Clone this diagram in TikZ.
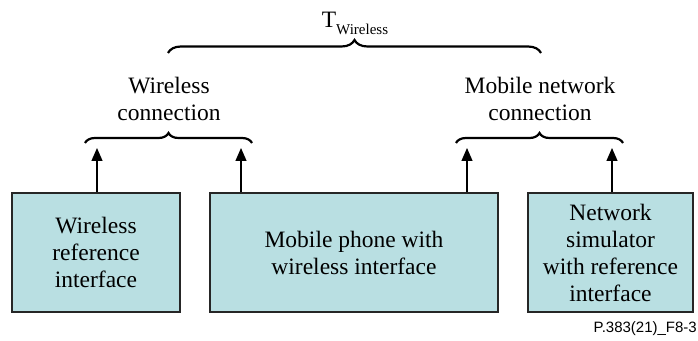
\documentclass[tikz,border=0pt]{standalone}
\usepackage{fontspec}
\setmainfont{Liberation Serif}
\newfontfamily\footfont{Liberation Sans}
\usetikzlibrary{arrows.meta,decorations.pathreplacing}
\definecolor{boxcyan}{RGB}{185,223,226}
\begin{document}
\begin{tikzpicture}[x=1pt,y=1pt,
    unit/.style={draw=black!85,line width=1.3pt,fill=boxcyan,align=center,inner sep=0pt,
      minimum height=119pt,font=\fontsize{23.5}{27}\selectfont},
    conlabel/.style={align=center,inner sep=0pt,font=\fontsize{23.5}{27}\selectfont},
    arr/.style={line width=1.3pt,-{Triangle[length=13pt,width=11pt]}},
    brc/.style={decorate,decoration={brace,amplitude=#1},line width=2.2pt}]
  \useasboundingbox (0,0) rectangle (698,340);
  % the three units
  \node[unit,minimum width=168pt] (wref) at (96,87.5) {Wireless\\reference\\interface};
  \node[unit,minimum width=288pt] (phone) at (354,87.5) {Mobile phone with\\wireless interface};
  \node[unit,minimum width=165pt] (netsim) at (610.5,87.5) {Network\\simulator\\with reference\\interface};
  % interface arrows
  \coordinate (t1) at (97,192);
  \coordinate (t2) at (241,192);
  \coordinate (t3) at (467,192);
  \coordinate (t4) at (612,192);
  \draw[arr] (t1 |- wref.north) -- (t1);
  \draw[arr] (t2 |- phone.north) -- (t2);
  \draw[arr] (t3 |- phone.north) -- (t3);
  \draw[arr] (t4 |- netsim.north) -- (t4);
  % braces
  \coordinate (wl) at (85,197);
  \coordinate (wr) at (252,197);
  \coordinate (ml) at (456,197);
  \coordinate (mr) at (623,197);
  \draw[brc=10pt] (wl) -- (wr);
  \draw[brc=10pt] (ml) -- (mr);
  \node[conlabel] (wcon) at (169,241.5) {Wireless\\connection};
  \node[conlabel] (mcon) at (540,241.5) {Mobile network\\connection};
  \coordinate (tl) at (168,287);
  \coordinate (tr) at (541,287);
  \draw[brc=13pt] (tl) -- (tr);
  \node[inner sep=0pt,anchor=base] (twl) at (355,312)
    {\fontsize{23.5}{27}\selectfont T\raisebox{-7pt}{\fontsize{15}{15}\selectfont Wireless}};
  \node[inner sep=0pt,anchor=base east] (fig) at (697,8)
    {\footfont\fontsize{15}{17}\selectfont P.383(21)\_F8-3};
\end{tikzpicture}
\end{document}
